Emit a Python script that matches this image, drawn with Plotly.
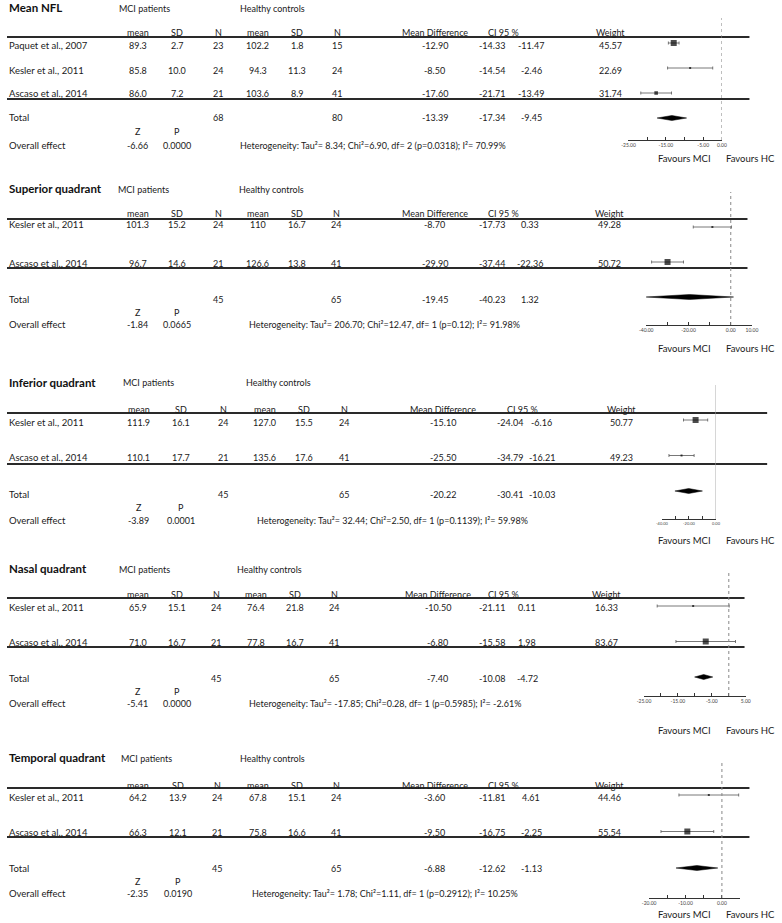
import plotly.graph_objects as go

# ---------------- DATA ----------------
panel_titles = ["Mean NFL", "Superior quadrant", "Inferior quadrant", "Nasal quadrant", "Temporal quadrant"]
studies = [
    ["Paquet et al., 2007", "Kesler et al., 2011", "Ascaso et al., 2014"],
    ["Kesler et al., 2011", "Ascaso et al., 2014"],
    ["Kesler et al., 2011", "Ascaso et al., 2014"],
    ["Kesler et al., 2011", "Ascaso et al., 2014"],
    ["Kesler et al., 2011", "Ascaso et al., 2014"],
]
mci_mean = [["89.3", "85.8", "86.0"], ["101.3", "96.7"], ["111.9", "110.1"], ["65.9", "71.0"], ["64.2", "66.3"]]
mci_sd = [["2.7", "10.0", "7.2"], ["15.2", "14.6"], ["16.1", "17.7"], ["15.1", "16.7"], ["13.9", "12.1"]]
mci_n = [[23, 24, 21], [24, 21], [24, 21], [24, 21], [24, 21]]
hc_mean = [["102.2", "94.3", "103.6"], ["110", "126.6"], ["127.0", "135.6"], ["76.4", "77.8"], ["67.8", "75.8"]]
hc_sd = [["1.8", "11.3", "8.9"], ["16.7", "13.8"], ["15.5", "17.6"], ["21.8", "16.7"], ["15.1", "16.6"]]
hc_n = [[15, 24, 41], [24, 41], [24, 41], [24, 41], [24, 41]]
mean_diff = [[-12.90, -8.50, -17.60], [-8.70, -29.90], [-15.10, -25.50], [-10.50, -6.80], [-3.60, -9.50]]
ci_low = [[-14.33, -14.54, -21.71], [-17.73, -37.44], [-24.04, -34.79], [-21.11, -15.58], [-11.81, -16.75]]
ci_high = [[-11.47, -2.46, -13.49], [0.33, -22.36], [-6.16, -16.21], [0.11, 1.98], [4.61, -2.25]]
weight = [[45.57, 22.69, 31.74], [49.28, 50.72], [50.77, 49.23], [16.33, 83.67], [44.46, 55.54]]
total_mci_n = [68, 45, 45, 45, 45]
total_hc_n = [80, 65, 65, 65, 65]
pooled_md = [-13.39, -19.45, -20.22, -7.40, -6.88]
pooled_low = [-17.34, -40.23, -30.41, -10.08, -12.62]
pooled_high = [-9.45, 1.32, -10.03, -4.72, -1.13]
z_value = ["-6.66", "-1.84", "-3.89", "-5.41", "-2.35"]
p_value = ["0.0000", "0.0665", "0.0001", "0.0000", "0.0190"]
tau2 = ["8.34", "206.70", "32.44", "-17.85", "1.78"]
chi2 = ["6.90", "12.47", "2.50", "0.28", "1.11"]
het_df = [2, 1, 1, 1, 1]
het_p = ["0.0318", "0.12", "0.1139", "0.5985", "0.2912"]
i2 = ["70.99", "91.98", "59.98", "-2.61", "10.25"]
axis_ticks = [
    [-25, -20, -15, -10, -5, 0],
    [-40, -30, -20, -10, 0, 10],
    [-40, -30, -20, -10, 0],
    [-25, -20, -15, -10, -5, 0, 5],
    [-20, -15, -10, -5, 0, 5],
]
axis_labels = [
    ["-25.00", "", "-15.00", "", "-5.00", "0.00"],
    ["-40.00", "", "-20.00", "", "0.00", "10.00"],
    ["-40.00", "", "-20.00", "", "0.00"],
    ["-25.00", "", "-15.00", "", "-5.00", "", "5.00"],
    ["-20.00", "", "-10.00", "", "0.00", ""],
]

# ---------------- LAYOUT / STYLE ----------------
W, H = 782, 923
FONT = "Lato, 'Open Sans', sans-serif"
TXT = "#1a1a1a"
FS = 9
FS_NAME = 9.5

LAY = [
    dict(top=8, head=32, line1=37, rows=[46, 70, 93], line2=99, total=118, zp=131, overall=145,
         het_x=236, line_end=755, zero_px=727, ppu=3.8, axis_y=140, zero_top=18,
         mk_first=43, mk_last=118, fav_y=158, tick_size=5, zero_dash="dot", zero_col="#888888",
         colsL=[133, 173, 215, 255, 295, 336], colsR=[435, 493, 533, 614], grp=[113, 236]),
    dict(top=188, head=214, line1=219, rows=[225, 263], line2=268, total=299, zp=312, overall=324,
         het_x=245, line_end=753, zero_px=736, ppu=2.15, axis_y=325, zero_top=192,
         mk_first=227, mk_last=297, fav_y=348, tick_size=5, zero_dash="dot", zero_col="#888888",
         colsL=[133, 173, 215, 255, 295, 335], colsR=[435, 493, 532, 613], grp=[112, 235]),
    dict(top=382, head=409, line1=413, rows=[422, 457], line2=464, total=495, zp=507, overall=520,
         het_x=253, line_end=773, zero_px=721, ppu=1.375, axis_y=519, zero_top=385,
         mk_first=420, mk_last=491, fav_y=540, tick_size=4, zero_dash="solid", zero_col="#aaaaaa",
         colsL=[134, 177, 220, 262, 302, 343], colsR=[443, 512, 544, 625], grp=[117, 242]),
    dict(top=568, head=594, line1=598, rows=[607, 642], line2=647, total=678, zp=691, overall=703,
         het_x=245, line_end=750, zero_px=734, ppu=3.45, axis_y=696, zero_top=570,
         mk_first=606, mk_last=677, fav_y=730, tick_size=5, zero_dash="dot", zero_col="#888888",
         colsL=[133, 173, 213, 253, 293, 333], colsR=[438, 493, 529, 610], grp=[113, 233]),
    dict(top=757, head=785, line1=788, rows=[797, 832], line2=837, total=868, zp=881, overall=893,
         het_x=248, line_end=755, zero_px=727, ppu=3.7, axis_y=898, zero_top=760,
         mk_first=795, mk_last=868, fav_y=914, tick_size=5, zero_dash="dot", zero_col="#888888",
         colsL=[133, 174, 214, 255, 295, 335], colsR=[435, 493, 533, 613], grp=[115, 236]),
]
SQ_MIN, SQ_MAX = 2.0, 6.0
DIAMOND_HALF_PX = 2.5


def ann(x, y, text, size=FS, xanchor="center", bold=False, color=TXT):
    return dict(x=x / W, y=1 - y / H, xref="paper", yref="paper",
                text=f"<b>{text}</b>" if bold else text, showarrow=False,
                xanchor=xanchor, yanchor="middle", borderpad=0,
                font=dict(size=size, color=color, family=FONT))


def hline(y, x1, width=1.8):
    return dict(type="line", xref="paper", yref="paper", x0=0, x1=x1 / W,
                y0=1 - y / H, y1=1 - y / H, line=dict(color="#2a2a2a", width=width))


fig = go.Figure()
annotations = []
shapes = []
layout_axes = {}

for i, title in enumerate(panel_titles):
    L = LAY[i]
    cl, cr = L["colsL"], L["colsR"]
    # --- table text ---
    annotations.append(ann(1, L["top"], title, size=11.5, xanchor="left", bold=True, color="#111111"))
    annotations.append(ann(L["grp"][0], L["top"] + 1, "MCI patients", xanchor="left"))
    annotations.append(ann(L["grp"][1], L["top"] + 1, "Healthy controls", xanchor="left"))
    for x, t in zip(cl, ["mean", "SD", "N", "mean", "SD", "N"]):
        annotations.append(ann(x, L["head"], t))
    annotations.append(ann(cr[0], L["head"], "Mean Difference"))
    annotations.append(ann(cr[1] + 12, L["head"], "CI 95 %"))
    annotations.append(ann(cr[3], L["head"], "Weight"))
    shapes.append(hline(L["line1"], L["line_end"]))
    shapes.append(hline(L["line2"], L["line_end"]))
    for j, name in enumerate(studies[i]):
        y = L["rows"][j]
        annotations.append(ann(1, y, name, size=FS_NAME, xanchor="left"))
        vals = [mci_mean[i][j], mci_sd[i][j], str(mci_n[i][j]),
                hc_mean[i][j], hc_sd[i][j], str(hc_n[i][j])]
        for x, t in zip(cl, vals):
            annotations.append(ann(x, y, t))
        rvals = [f"{mean_diff[i][j]:.2f}", f"{ci_low[i][j]:.2f}", f"{ci_high[i][j]:.2f}", f"{weight[i][j]:.2f}"]
        for x, t in zip(cr, rvals):
            annotations.append(ann(x, y, t))
    annotations.append(ann(1, L["total"], "Total", size=FS_NAME, xanchor="left"))
    annotations.append(ann(cl[2], L["total"], str(total_mci_n[i])))
    annotations.append(ann(cl[5], L["total"], str(total_hc_n[i])))
    annotations.append(ann(cr[0], L["total"], f"{pooled_md[i]:.2f}"))
    annotations.append(ann(cr[1], L["total"], f"{pooled_low[i]:.2f}"))
    annotations.append(ann(cr[2], L["total"], f"{pooled_high[i]:.2f}"))
    annotations.append(ann(cl[0], L["zp"], "Z"))
    annotations.append(ann(cl[1], L["zp"], "P"))
    annotations.append(ann(1, L["overall"], "Overall effect", size=FS_NAME, xanchor="left"))
    annotations.append(ann(cl[0], L["overall"], z_value[i]))
    annotations.append(ann(cl[1], L["overall"], p_value[i]))
    het = (f"Heterogeneity: Tau²= {tau2[i]}; Chi²={chi2[i]}, df= {het_df[i]} "
           f"(p={het_p[i]}); I²= {i2[i]}%")
    annotations.append(ann(L["het_x"], L["overall"], het, xanchor="left"))
    annotations.append(ann(689, L["fav_y"], "Favours MCI", size=9.5))
    annotations.append(ann(756, L["fav_y"], "Favours HC", size=9.5))

    # --- forest axes ---
    sfx = "" if i == 0 else str(i + 1)
    xa, ya = f"x{sfx}", f"y{sfx}"
    lo, hi = axis_ticks[i][0], axis_ticks[i][-1]
    x0 = (L["zero_px"] + L["ppu"] * lo) / W
    x1 = (L["zero_px"] + L["ppu"] * hi) / W
    n = len(studies[i])
    step = (L["mk_last"] - L["mk_first"]) / n
    ybot = (L["axis_y"] - L["mk_first"]) / step
    ytop = (L["zero_top"] - L["mk_first"]) / step
    layout_axes[f"xaxis{sfx}"] = dict(
        domain=[x0, x1], range=[lo, hi], anchor=ya, showline=True, linecolor="#333333",
        linewidth=1, ticks="inside", ticklen=3, tickcolor="#333333", tickwidth=1,
        tickvals=axis_ticks[i], ticktext=axis_labels[i], showgrid=False, zeroline=False,
        tickfont=dict(size=L["tick_size"], color="#444444", family=FONT), fixedrange=True)
    layout_axes[f"yaxis{sfx}"] = dict(
        domain=[1 - L["axis_y"] / H, 1 - L["zero_top"] / H], range=[ybot, ytop],
        anchor=xa, visible=False, showgrid=False, zeroline=False, fixedrange=True)
    shapes.append(dict(type="line", xref=xa, yref=f"{ya} domain", x0=0, x1=0, y0=0, y1=1,
                       line=dict(color=L["zero_col"], width=1, dash=L["zero_dash"])))

    wmin, wmax = min(weight[i]), max(weight[i])
    sizes = [SQ_MIN + (w - wmin) / (wmax - wmin) * (SQ_MAX - SQ_MIN) for w in weight[i]]
    rows = list(range(n))
    fig.add_trace(go.Scatter(
        x=mean_diff[i], y=rows, xaxis=xa, yaxis=ya, mode="markers",
        marker=dict(symbol="square", size=sizes, color="black", line=dict(width=0)),
        error_x=dict(type="data", symmetric=False,
                     array=[h - m for h, m in zip(ci_high[i], mean_diff[i])],
                     arrayminus=[m - l for m, l in zip(mean_diff[i], ci_low[i])],
                     color="#555555", thickness=0.8, width=1.5),
        cliponaxis=False, showlegend=False, hoverinfo="skip"))
    dh = DIAMOND_HALF_PX / step
    fig.add_trace(go.Scatter(
        x=[pooled_low[i], pooled_md[i], pooled_high[i], pooled_md[i], pooled_low[i]],
        y=[n, n - dh, n, n + dh, n], xaxis=xa, yaxis=ya, mode="lines", fill="toself",
        fillcolor="black", line=dict(color="black", width=0.5), cliponaxis=False,
        showlegend=False, hoverinfo="skip"))

fig.update_layout(
    width=W, height=H, margin=dict(l=0, r=0, t=0, b=0),
    paper_bgcolor="white", plot_bgcolor="rgba(0,0,0,0)",
    annotations=annotations, shapes=shapes, showlegend=False,
    font=dict(family=FONT, color=TXT), **layout_axes)

fig.write_html("out.html", config={"displayModeBar": False},
               post_script="document.body.style.margin='0';document.body.style.overflow='hidden';")
